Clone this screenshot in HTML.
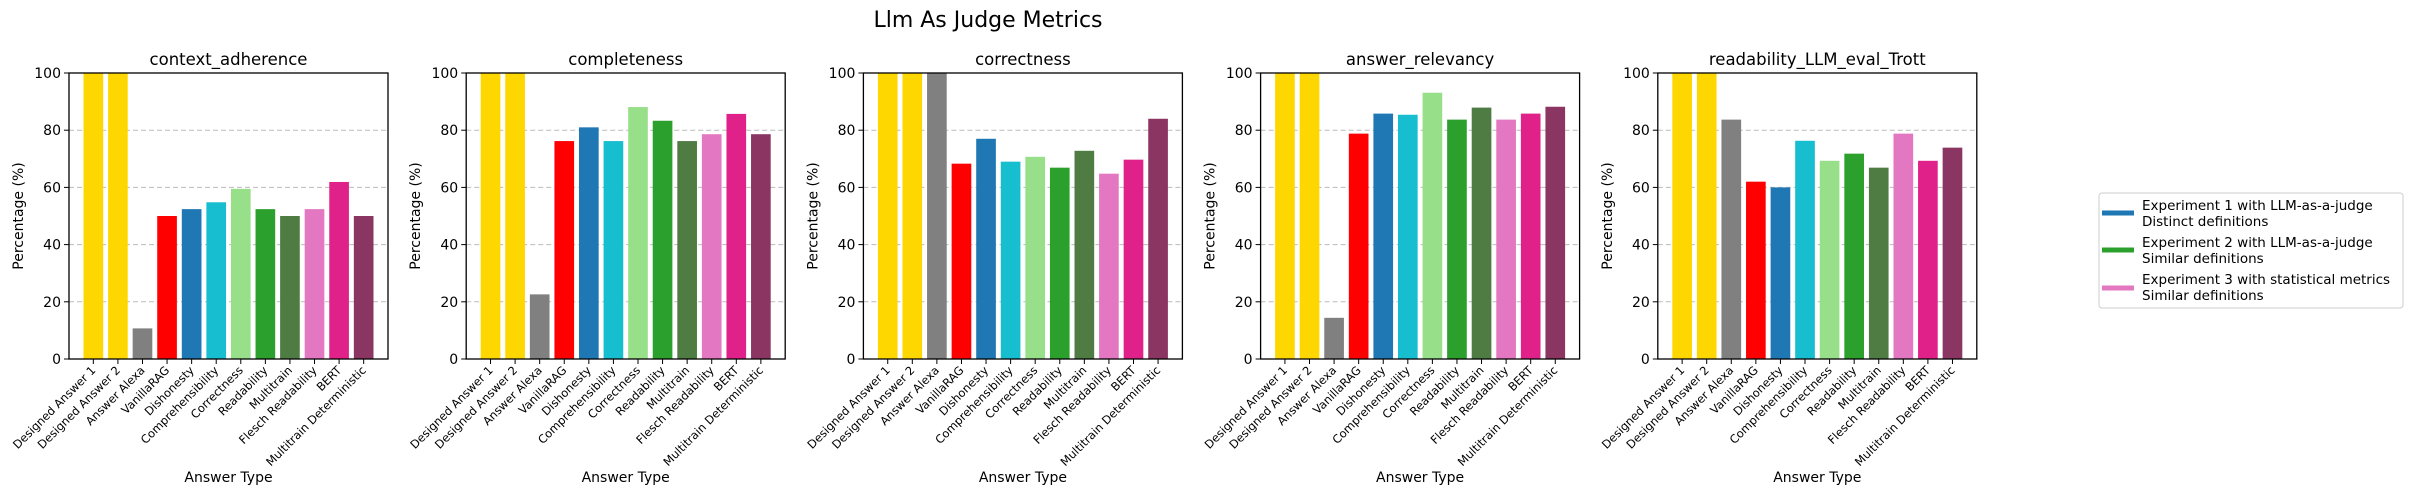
<!DOCTYPE html>
<html><head><meta charset="utf-8"><style>
body{margin:0;background:#fff;}
svg text{font-family:"DejaVu Sans","Liberation Sans",sans-serif;fill:#000;}
</style></head><body>
<svg id="fig" width="2413" height="495" xmlns="http://www.w3.org/2000/svg">
<text x="988" y="27" font-size="22" text-anchor="middle">Llm As Judge Metrics</text>
<g>
<rect x="2099" y="193" width="304" height="115" rx="3" fill="#fff" stroke="#ccc"/>
<line x1="2102" y1="213" x2="2134" y2="213" stroke="#1f77b4" stroke-width="5"/>
<text x="2142" y="210" font-size="13.5">Experiment 1 with LLM-as-a-judge</text>
<text x="2142" y="226" font-size="13.5">Distinct definitions</text>
<line x1="2102" y1="250" x2="2134" y2="250" stroke="#2ca02c" stroke-width="5"/>
<text x="2142" y="247" font-size="13.5">Experiment 2 with LLM-as-a-judge</text>
<text x="2142" y="263" font-size="13.5">Similar definitions</text>
<line x1="2102" y1="288" x2="2134" y2="288" stroke="#e377c2" stroke-width="5"/>
<text x="2142" y="284" font-size="13.5">Experiment 3 with statistical metrics</text>
<text x="2142" y="300" font-size="13.5">Similar definitions</text>
</g>
</svg>
<script>
const categories=["Designed Answer 1","Designed Answer 2","Answer Alexa","VanillaRAG","Dishonesty","Comprehensibility","Correctness","Readability","Multitrain","Flesch Readability","BERT","Multitrain Deterministic"];
const colors=["#FFD700","#FFD700","#808080","#FF0000","#1f77b4","#17becf","#98df8a","#2ca02c","#4e7c43","#e377c2","#e0218a","#8b3563"];
const metrics=["context_adherence","completeness","correctness","answer_relevancy","readability_LLM_eval_Trott"];
const contextAdherence=[100,100,10.7,50,52.4,54.8,59.5,52.4,50,52.4,61.9,50];
const completeness=[100,100,22.6,76.2,81,76.2,88.1,83.3,76.2,78.6,85.7,78.6];
const correctness=[100,100,100,68.3,77,69,70.7,66.9,72.8,64.8,69.7,84];
const answerRelevancy=[100,100,14.4,78.8,85.8,85.4,93.1,83.7,87.9,83.7,85.8,88.2];
const readability=[100,100,83.7,62,60,76.3,69.3,71.8,66.9,78.8,69.3,73.9];
const yTicks=[0,20,40,60,80,100];
const series=[contextAdherence,completeness,correctness,answerRelevancy,readability];
const NS="http://www.w3.org/2000/svg";
const svg=document.getElementById('fig');
function mk(t,a,p){const e=document.createElementNS(NS,t);for(const k in a)e.setAttribute(k,a[k]);(p||svg).appendChild(e);return e;}
const top0=73,bot=359,W=319;
const xmin=-0.99,xmax=11.99;
series.forEach((vals,pi)=>{
  const L=69+pi*397.2;
  const g=mk('g',{});
  
  
  const xs=i=>L+(i-xmin)/(xmax-xmin)*W;
  const ys=v=>bot-v/100*(bot-top0);
  yTicks.forEach(t=>{
    if(t>0&&t<100){const gl=mk('line',{x1:L,x2:L+W,y1:ys(t),y2:ys(t),stroke:'#bbb','stroke-dasharray':'5,3','stroke-width':1},g);}
    mk('line',{x1:L-5,x2:L,y1:ys(t),y2:ys(t),stroke:'#000'},g);
    const tl=mk('text',{x:L-8,y:ys(t)+5,'font-size':14,'text-anchor':'end'},g);tl.textContent=t;
    
  });
  vals.forEach((v,i)=>{
    const b=mk('rect',{x:xs(i-0.4),width:xs(0.4)-xs(-0.4),y:ys(v),height:bot-ys(v),fill:colors[i]},g);
    
    
    mk('line',{x1:xs(i),x2:xs(i),y1:bot,y2:bot+5,stroke:'#000'},g);
    const tl=mk('text',{x:0,y:0,'font-size':11.5,'text-anchor':'end',transform:`translate(${xs(i)+3},${bot+12}) rotate(-45)`},g);
    tl.textContent=categories[i];
    
  });
  const fr=mk('rect',{x:L,y:top0,width:W,height:bot-top0,fill:'none',stroke:'#000','stroke-width':1.3},g);
  
  const tt=mk('text',{x:L+W/2,y:65,'font-size':16.5,'text-anchor':'middle'},g);tt.textContent=metrics[pi];
  
  const xl=mk('text',{x:L+W/2,y:482,'font-size':14,'text-anchor':'middle'},g);xl.textContent='Answer Type';
  
  const yl=mk('text',{x:0,y:0,'font-size':14,'text-anchor':'middle',transform:`translate(${L-46},${(top0+bot)/2}) rotate(-90)`},g);yl.textContent='Percentage (%)';
  
});
</script>
</body></html>
